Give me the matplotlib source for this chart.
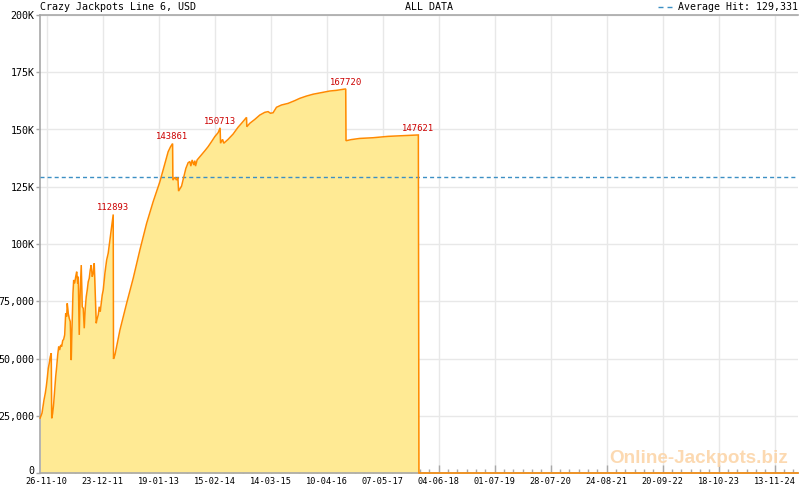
import matplotlib
matplotlib.use("Agg")
import matplotlib.pyplot as plt
import matplotlib.dates as mdates
import matplotlib.transforms as mtransforms
import numpy as np
import pandas as pd

# ---------------- data ----------------
dates = [
    "2010-10-11", "2010-10-24", "2010-10-31", "2010-11-07", "2010-11-16", "2010-11-23",
    "2010-11-30", "2010-12-07", "2010-12-14", "2010-12-21", "2010-12-28", "2010-12-31",
    "2011-01-07", "2011-01-14", "2011-01-21", "2011-01-28", "2011-02-04", "2011-02-11",
    "2011-02-18", "2011-02-25", "2011-03-04", "2011-03-11", "2011-03-18", "2011-03-25",
    "2011-04-01", "2011-04-08", "2011-04-15", "2011-04-19", "2011-04-26", "2011-05-03",
    "2011-05-10", "2011-05-17", "2011-05-22", "2011-05-29", "2011-06-03", "2011-06-10",
    "2011-06-17", "2011-06-24", "2011-07-01", "2011-07-05", "2011-07-12", "2011-07-19",
    "2011-07-26", "2011-08-02", "2011-08-09", "2011-08-16", "2011-08-23", "2011-08-30",
    "2011-09-06", "2011-09-13", "2011-09-20", "2011-09-27", "2011-10-04", "2011-10-11",
    "2011-10-18", "2011-10-25", "2011-11-01", "2011-11-08", "2011-11-15", "2011-11-22",
    "2011-11-29", "2011-12-06", "2011-12-13", "2011-12-20", "2011-12-27", "2012-01-08",
    "2012-01-20", "2012-01-31", "2012-02-12", "2012-02-24", "2012-03-06", "2012-03-08",
    "2012-03-18", "2012-04-22", "2012-06-08", "2012-07-24", "2012-09-09", "2012-10-26",
    "2012-12-11", "2013-01-27", "2013-03-03", "2013-03-26", "2013-04-12", "2013-04-26",
    "2013-04-28", "2013-05-12", "2013-05-24", "2013-06-02", "2013-06-07", "2013-06-28",
    "2013-07-14", "2013-07-28", "2013-08-13", "2013-08-25", "2013-09-01", "2013-09-10",
    "2013-09-22", "2013-09-29", "2013-10-04", "2013-10-15", "2013-11-03", "2013-12-08",
    "2013-12-31", "2014-01-24", "2014-02-16", "2014-03-11", "2014-03-25", "2014-03-28",
    "2014-04-11", "2014-04-20", "2014-05-20", "2014-06-24", "2014-07-29", "2014-08-22",
    "2014-09-26", "2014-09-28", "2014-10-19", "2014-11-23", "2014-12-28", "2015-02-01",
    "2015-02-24", "2015-03-13", "2015-03-31", "2015-04-24", "2015-05-29", "2015-07-14",
    "2015-08-30", "2015-10-04", "2015-11-20", "2016-01-05", "2016-03-04", "2016-05-01",
    "2016-06-17", "2016-08-21", "2016-08-23", "2016-09-30", "2016-11-27", "2017-02-28",
    "2017-06-13", "2018-01-12", "2018-01-16", "2025-04-25",
]
values = [
    24000, 26100, 29000, 31900, 34800, 37700,
    41400, 45700, 47900, 50800, 52300, 23900,
    26100, 30400, 36200, 42100, 46400, 51500,
    55200, 53700, 55900, 55200, 57800, 58400,
    60300, 69700, 68300, 74100, 69700, 67500,
    66100, 49300, 62400, 78500, 84300, 82800,
    85700, 87900, 82800, 85700, 60300, 79900,
    90800, 72600, 71900, 63200, 71900, 77000,
    79900, 83500, 85000, 88600, 90800, 85700,
    87200, 91600, 78500, 65400, 67500, 69000,
    72600, 70400, 74100, 77700, 79900, 87300,
    93000, 96000, 101700, 107500, 112893, 49800,
    51500, 62400, 74100, 85000, 97400, 109000,
    118500, 127200, 135200, 140300, 142500, 143861,
    127900, 129100, 127900, 129000, 123100, 125300,
    129400, 133000, 135500, 136000, 134000, 136700,
    134500, 136400, 134000, 136700, 138100, 140700,
    142500, 144700, 146900, 148600, 150713, 144000,
    145700, 144000, 145700, 148000, 151000, 152700,
    155300, 151200, 152700, 154400, 156300, 157500,
    157800, 157100, 157300, 159700, 160700, 161400,
    162600, 163600, 164600, 165400, 166100, 166800,
    167100, 167720, 145100, 145600, 146100, 146400,
    147000, 147621, 0, 0,
]
peak_values = [112893, 143861, 150713, 167720, 147621]
average_hit = 129331

tick_dates = ["2010-11-26", "2011-12-23", "2013-01-19", "2014-02-15", "2015-03-14",
              "2016-04-10", "2017-05-07", "2018-06-04", "2019-07-01", "2020-07-28",
              "2021-08-24", "2022-09-20", "2023-10-18", "2024-11-13"]
y_ticks = [0, 25000, 50000, 75000, 100000, 125000, 150000, 175000, 200000]
y_labels = ["0", "25,000", "50,000", "75,000", "100K", "125K", "150K", "175K", "200K"]
x_start, x_end = "2010-10-10", "2025-04-25"

title_left = "Crazy Jackpots Line 6, USD"
title_mid = "ALL DATA"
avg_label = "Average Hit: 129,331"
watermark = "Online-Jackpots.biz"

# ---------------- style ----------------
MONO = "DejaVu Sans Mono"
LINE = "#ff8a00"
FILL = "#ffea94"
AVG = "#3c8fc4"
GRID = "#e8e8e8"
AXC = "#a8a8a8"

x = pd.to_datetime(dates)
y = np.array(values, dtype=float)

fig = plt.figure(figsize=(8, 4.9), dpi=100)
ax = fig.add_axes([40 / 800, 17 / 490, 758 / 800, 458 / 490])

ax.fill_between(x, y, 0, color=FILL, linewidth=0, zorder=1)
ax.plot(x, y, color=LINE, linewidth=1.1, zorder=4, clip_on=False,
        solid_joinstyle="miter")
ax.axhline(average_hit, color=AVG, linewidth=1.0, dashes=(2.9, 2.2), zorder=3)

for pv in peak_values:
    i = values.index(pv)
    ax.annotate(str(pv), (x[i], y[i]), xytext=(0, 1.5), textcoords="offset points",
                ha="center", va="bottom", fontsize=6.4, color="#cc0000",
                family=MONO, zorder=5)

ax.set_xlim(pd.Timestamp(x_start), pd.Timestamp(x_end))
ax.set_ylim(0, 200000)

# x ticks
tk = pd.to_datetime(tick_dates)
tnum = mdates.date2num(tk)
ax.set_xticks(tnum)
ax.set_xticklabels([d.strftime("%d-%m-%y") for d in tk], fontsize=6.2, family=MONO)
step = np.diff(tnum).mean() / 6
lo, hi = mdates.date2num(pd.Timestamp(x_start)), mdates.date2num(pd.Timestamp(x_end))
minors = np.arange(tnum[0], hi, step)
minors = np.concatenate([np.arange(tnum[0] - step, lo, -step), minors])
minors = [m for m in minors if not np.any(np.isclose(m, tnum, atol=1))]
ax.set_xticks(minors, minor=True)
ax.tick_params(axis="x", which="major", direction="in", length=6, width=1,
               color=AXC, pad=3)
ax.tick_params(axis="x", which="minor", direction="in", length=3, width=1, color=AXC)

ax.set_yticks(y_ticks)
ax.set_yticklabels(y_labels, fontsize=7.2, family=MONO)
ax.tick_params(axis="y", direction="out", length=3, width=1, color=AXC, pad=1)
# lift the "0" label slightly, as in the reference
zero_lbl = ax.get_yticklabels()[0]
zero_lbl.set_transform(zero_lbl.get_transform() +
                       mtransforms.ScaledTranslation(0, 3 / 100, fig.dpi_scale_trans))

ax.grid(True, which="major", color=GRID, linewidth=1.0, zorder=0)
ax.set_axisbelow(True)
for s in ["left", "bottom", "top"]:
    ax.spines[s].set_color(AXC)
    ax.spines[s].set_linewidth(1.2)
ax.spines["right"].set_visible(False)

# header texts
ty = 1 - 7 / 490
fig.text(40 / 800, ty, title_left, fontsize=7.2, family=MONO, ha="left", va="center")
fig.text(405 / 800, ty, title_mid, fontsize=7.2, family=MONO, ha="left", va="center")
fig.text(798 / 800, ty, avg_label, fontsize=7.1, family=MONO, ha="right", va="center")
fig.add_artist(plt.Line2D([658 / 800, 672 / 800], [ty, ty], color=AVG, linewidth=1.0,
                          dashes=(3.6, 2.9), transform=fig.transFigure))

# watermark
fig.text(788 / 800, 1 - 458 / 490, watermark, fontsize=13.6, fontweight="bold",
         family="Liberation Sans", color="#fcd3a4", alpha=0.85, ha="right", va="center",
         zorder=2)

fig.savefig("out.png", dpi=100)
